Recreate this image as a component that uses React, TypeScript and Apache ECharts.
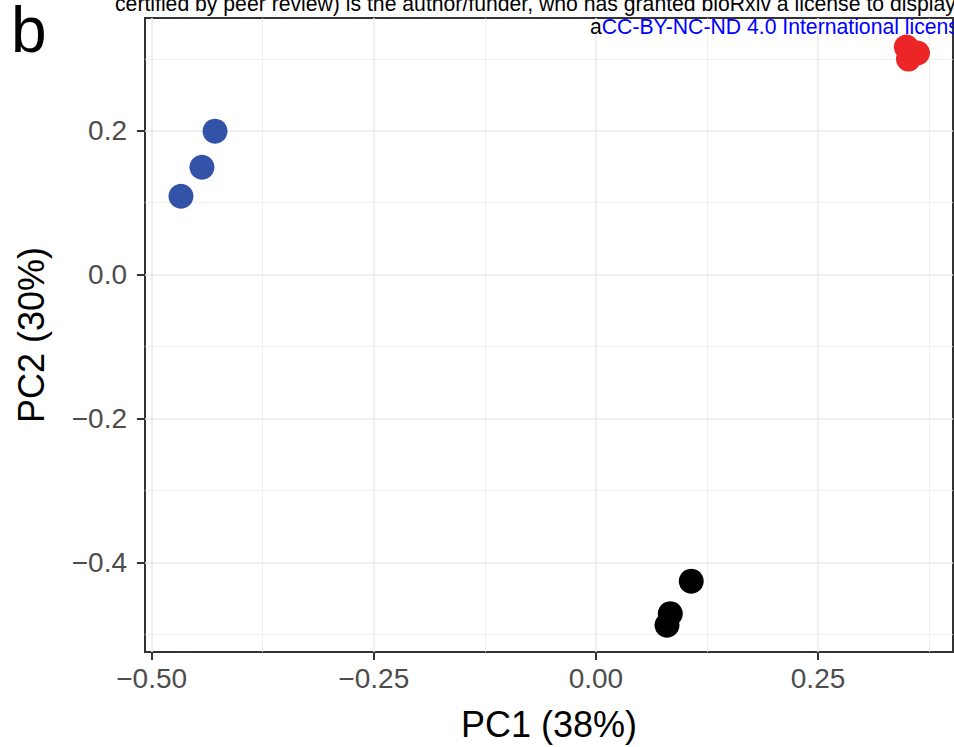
import React, { useEffect, useRef } from "react";
import * as echarts from "echarts";

// PCA scores, one array per sample group
const groupBluePC1 = [-0.4287, -0.4434, -0.467];
const groupBluePC2 = [0.1994, 0.1493, 0.109];
const groupRedPC1 = [0.3494, 0.3619, 0.3518];
const groupRedPC2 = [0.3163, 0.308, 0.2996];
const groupBlackPC1 = [0.1073, 0.0837, 0.08];
const groupBlackPC2 = [-0.4259, -0.471, -0.4871];

// axis breaks
const xMajorBreaks = [-0.5, -0.25, 0, 0.25];
const xMinorBreaks = [-0.375, -0.125, 0.125, 0.375];
const yMajorBreaks = [-0.4, -0.2, 0, 0.2];
const yMinorBreaks = [-0.5, -0.3, -0.1, 0.1, 0.3];
const xRange = [-0.5075, 0.4019];
const yRange = [-0.5243, 0.3567];

const xTitle = "PC1 (38%)";
const yTitle = "PC2 (30%)";
const panelTag = "b";
const headerLine = "certified by peer review) is the author/funder, who has granted bioRxiv a license to display";
const licenseLine = "CC-BY-NC-ND 4.0 International license";

const FONT = "'Liberation Sans', Arial, Helvetica, sans-serif";
const MINUS = "\u2212";

const pairs = (xs: number[], ys: number[]) => xs.map((x, i) => [x, ys[i]]);
const fmt = (v: number, digits: number) => {
  const s = Math.abs(v).toFixed(digits);
  return v < 0 ? MINUS + s : s;
};

export default function App() {
  const ref = useRef<HTMLDivElement>(null);

  useEffect(() => {
    if (!ref.current) return;
    const chart = echarts.init(ref.current, undefined, { renderer: "svg" });

    const majorGrid = { show: true, lineStyle: { color: "#ebebeb", width: 1.6 } };
    const minorGrid = { show: true, lineStyle: { color: "#ebebeb", width: 0.8 } };
    const tickStyle = { color: "#333333", width: 2 };
    const labelStyle = { color: "#4d4d4d", fontSize: 28, fontFamily: FONT };

    const scatter = (name: string, xs: number[], ys: number[], color: string) => ({
      type: "scatter",
      name,
      xAxisIndex: 0,
      yAxisIndex: 0,
      symbol: "circle",
      symbolSize: 25,
      itemStyle: { color, opacity: 1 },
      data: pairs(xs, ys),
      z: 5,
    });

    chart.setOption({
      animation: false,
      backgroundColor: "#ffffff",
      grid: {
        left: 145,
        top: 18,
        right: 1,
        bottom: 95,
        show: true,
        borderColor: "#333333",
        borderWidth: 2,
        backgroundColor: "#ffffff",
        outerBoundsMode: "none",
        containLabel: false,
      },
      xAxis: [
        {
          type: "value",
          min: xRange[0],
          max: xRange[1],
          position: "bottom",
          axisLine: { show: false, onZero: false },
          axisTick: { show: true, length: 8, lineStyle: tickStyle, customValues: xMajorBreaks },
          axisLabel: {
            ...labelStyle,
            margin: 12,
            customValues: xMajorBreaks,
            formatter: (v: number) => fmt(v, 2),
          },
          splitLine: majorGrid,
          name: xTitle,
          nameLocation: "middle",
          nameGap: 72,
          nameTextStyle: { color: "#000000", fontSize: 36, fontFamily: FONT, verticalAlign: "middle" },
        },
        {
          type: "value",
          min: xRange[0],
          max: xRange[1],
          position: "top",
          axisLine: { show: false, onZero: false },
          axisTick: { show: false, customValues: xMinorBreaks },
          axisLabel: { show: false },
          splitLine: minorGrid,
        },
      ],
      yAxis: [
        {
          type: "value",
          min: yRange[0],
          max: yRange[1],
          position: "left",
          axisLine: { show: false, onZero: false },
          axisTick: { show: true, length: 8, lineStyle: tickStyle, customValues: yMajorBreaks },
          axisLabel: {
            ...labelStyle,
            margin: 18,
            customValues: yMajorBreaks,
            formatter: (v: number) => fmt(v, 1),
          },
          splitLine: majorGrid,
          name: yTitle,
          nameLocation: "middle",
          nameGap: 114,
          nameTextStyle: { color: "#000000", fontSize: 36, fontFamily: FONT, verticalAlign: "middle" },
        },
        {
          type: "value",
          min: yRange[0],
          max: yRange[1],
          position: "right",
          axisLine: { show: false, onZero: false },
          axisTick: { show: false, customValues: yMinorBreaks },
          axisLabel: { show: false },
          splitLine: minorGrid,
        },
      ],
      graphic: [
        {
          type: "text",
          left: 11,
          y: 30,
          style: {
            text: panelTag,
            font: `64px ${FONT}`,
            lineHeight: 54,
            fill: "#000000",
            verticalAlign: "middle",
          },
        },
        {
          type: "text",
          x: 115,
          y: 3,
          z: 100,
          style: {
            text: headerLine,
            font: `21.2px ${FONT}`,
            fill: "#000000",
            verticalAlign: "middle",
          },
        },
        {
          type: "text",
          x: 590,
          y: 26,
          z: 100,
          style: {
            text: `{a|a}{b|${licenseLine}}`,
            font: `21.2px ${FONT}`,
            verticalAlign: "middle",
            rich: {
              a: { fill: "#000000", font: `21.2px ${FONT}` },
              b: { fill: "#0000ff", font: `21.2px ${FONT}` },
            },
          },
        },
      ],
      series: [
        scatter("blue", groupBluePC1, groupBluePC2, "#3253a7"),
        scatter("red", groupRedPC1, groupRedPC2, "#ec2626"),
        scatter("black", groupBlackPC1, groupBlackPC2, "#000000"),
      ],
    });

    return () => chart.dispose();
  }, []);

  return (
    <div
      ref={ref}
      style={{ position: "fixed", left: 0, top: 0, width: 954, height: 747 }}
    />
  );
}
